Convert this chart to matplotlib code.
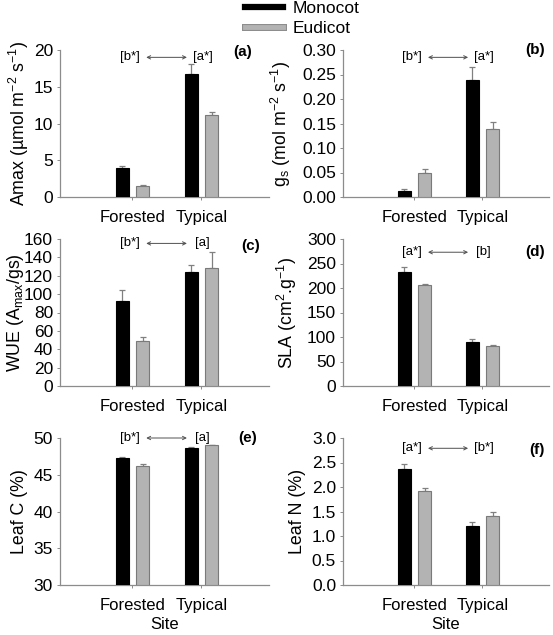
import numpy as np
import matplotlib
matplotlib.use('Agg')
import matplotlib.pyplot as plt
from matplotlib.lines import Line2D
import matplotlib.patheffects as pe

plt.rcParams['font.family'] = ['Liberation Sans', 'DejaVu Sans']
plt.rcParams['mathtext.default'] = 'regular'

# data (means and upper standard errors)
sites = ['Forested', 'Typical']

amax_mono = [3.9, 16.8]
amax_mono_se = [0.3, 1.3]
amax_eudi = [1.5, 11.1]
amax_eudi_se = [0.13, 0.4]

gs_mono = [0.013, 0.239]
gs_mono_se = [0.003, 0.026]
gs_eudi = [0.048, 0.138]
gs_eudi_se = [0.009, 0.015]

wue_mono = [92, 124]
wue_mono_se = [12, 8]
wue_eudi = [49.5, 128]
wue_eudi_se = [3.5, 18]

sla_mono = [232, 89]
sla_mono_se = [10, 7]
sla_eudi = [207, 82.5]
sla_eudi_se = [1.5, 2]

leafc_mono = [47.3, 48.7]
leafc_mono_se = [0.1, 0.1]
leafc_eudi = [46.2, 49.0]
leafc_eudi_se = [0.2, 0.1]

leafn_mono = [2.36, 1.20]
leafn_mono_se = [0.10, 0.09]
leafn_eudi = [1.91, 1.41]
leafn_eudi_se = [0.07, 0.07]

panels = [
    dict(mono=amax_mono, mse=amax_mono_se, eudi=amax_eudi, ese=amax_eudi_se,
         ylim=(0, 20), step=5, fmt='%d', ylabel='Amax (µmol m$^{-2}$ s$^{-1}$)',
         tag='(a)', left='[b*]', right='[a*]'),
    dict(mono=gs_mono, mse=gs_mono_se, eudi=gs_eudi, ese=gs_eudi_se,
         ylim=(0, 0.30), step=0.05, fmt='%.2f', ylabel='g$_s$ (mol m$^{-2}$ s$^{-1}$)',
         tag='(b)', left='[b*]', right='[a*]'),
    dict(mono=wue_mono, mse=wue_mono_se, eudi=wue_eudi, ese=wue_eudi_se,
         ylim=(0, 160), step=20, fmt='%d', ylabel='WUE (A$_{max}$/gs)',
         tag='(c)', left='[b*]', right='[a]'),
    dict(mono=sla_mono, mse=sla_mono_se, eudi=sla_eudi, ese=sla_eudi_se,
         ylim=(0, 300), step=50, fmt='%d', ylabel='SLA (cm$^{2}$.g$^{-1}$)',
         tag='(d)', left='[a*]', right='[b]'),
    dict(mono=leafc_mono, mse=leafc_mono_se, eudi=leafc_eudi, ese=leafc_eudi_se,
         ylim=(30, 50), step=5, fmt='%d', ylabel='Leaf C (%)',
         tag='(e)', left='[b*]', right='[a]'),
    dict(mono=leafn_mono, mse=leafn_mono_se, eudi=leafn_eudi, ese=leafn_eudi_se,
         ylim=(0, 3.0), step=0.5, fmt='%.1f', ylabel='Leaf N (%)',
         tag='(f)', left='[a*]', right='[b*]'),
]

# annotation placement per panel (axes fraction heights, tag x/y, ylabel x in px)
note_y = [0.95, 0.95, 0.97, 0.91, 1.0, 0.93]
tag_xy = [(0.875, 0.985), (0.93, 1.0), (0.91, 0.955), (0.93, 0.91), (0.90, 1.0), (0.94, 0.92)]
ylab_px = [19, 281, 16, 287, 19, 298]

fig = plt.figure(figsize=(5.53, 6.35), dpi=100)

col_left = [60, 343]
col_width = [209, 206]
row_bottom = [1 - 197 / 635, 1 - 386 / 635, 1 - 585 / 635]
row_height = 147 / 635

x = np.array([1, 2])
w = 0.19
off = 0.15
spine_col = '#8c8c8c'
err_col = '#808080'

for i, p in enumerate(panels):
    r, c = divmod(i, 2)
    ax = fig.add_axes([col_left[c] / 553, row_bottom[r], col_width[c] / 553, row_height])
    base = p['ylim'][0]
    ax.bar(x - off, np.array(p['mono']) - base, w, bottom=base, color='black',
           edgecolor='black', linewidth=0.8, zorder=3)
    ax.bar(x + off, np.array(p['eudi']) - base, w, bottom=base, color='#b3b3b3',
           edgecolor='#7a7a7a', linewidth=0.8, zorder=3)
    ax.errorbar(x - off, p['mono'], yerr=[[0, 0], p['mse']], fmt='none',
                ecolor=err_col, elinewidth=0.9, capsize=2.5, capthick=0.9, zorder=2)
    ax.errorbar(x + off, p['eudi'], yerr=[[0, 0], p['ese']], fmt='none',
                ecolor=err_col, elinewidth=0.9, capsize=2.5, capthick=0.9, zorder=2)

    ax.set_xlim(-0.05, 2.98)
    ax.set_ylim(*p['ylim'])
    ticks = np.arange(p['ylim'][0], p['ylim'][1] + p['step'] / 2, p['step'])
    ax.set_yticks(ticks)
    ax.set_yticklabels([p['fmt'] % t for t in ticks], fontsize=12.5)
    ax.set_xticks(x)
    ax.set_xticklabels(sites, fontsize=12)
    ax.set_ylabel(p['ylabel'], fontsize=12.8, va='center')
    ax.yaxis.set_label_coords((ylab_px[i] - col_left[c]) / col_width[c], 0.5)
    if r == 2:
        ax.set_xlabel('Site', fontsize=12, labelpad=3)

    for s in ['top', 'right']:
        ax.spines[s].set_visible(False)
    for s in ['left', 'bottom']:
        ax.spines[s].set_color(spine_col)
        ax.spines[s].set_linewidth(0.9)
    ax.tick_params(axis='both', direction='out', length=2.5, width=0.7,
                   color=spine_col, pad=2.5)
    ax.tick_params(axis='x', pad=7)

    # significance annotation between sites
    tr = ax.get_xaxis_transform()
    ny = note_y[i]
    ax.text(0.96, ny, p['left'], transform=tr, ha='center', va='center', fontsize=9.5)
    ax.text(2.02, ny, p['right'], transform=tr, ha='center', va='center', fontsize=9.5)
    ax.annotate('', xy=(1.79, ny), xytext=(1.2, ny), xycoords=tr, textcoords=tr,
                arrowprops=dict(arrowstyle='<->', color='#505050', lw=0.7,
                                shrinkA=0, shrinkB=0, mutation_scale=6))
    ax.text(tag_xy[i][0], tag_xy[i][1], p['tag'], transform=ax.transAxes,
            ha='center', va='center', fontsize=11, fontweight='bold')

handles = [
    Line2D([], [], color='black', lw=4.5),
    Line2D([], [], color='#b3b3b3', lw=3.5,
           path_effects=[pe.Stroke(linewidth=5, foreground='#8a8a8a'), pe.Normal()]),
]
fig.legend(handles, ['Monocot', 'Eudicot'], loc='upper left',
           bbox_to_anchor=(245 / 553, 0.999), frameon=False, fontsize=12.5,
           handlelength=2.2, handletextpad=0.55, labelspacing=0.3,
           borderpad=0, borderaxespad=0)

fig.savefig('out.png', dpi=100)
